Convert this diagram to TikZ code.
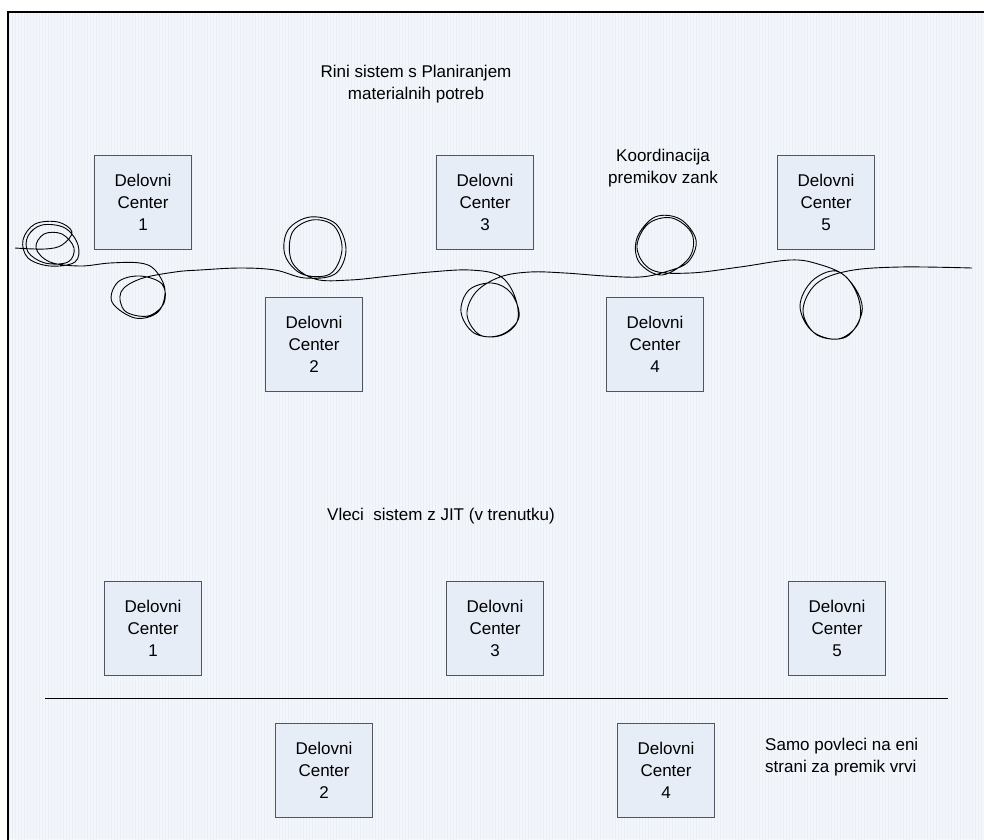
\documentclass[tikz,border=0pt]{standalone}
\usepackage{fontspec}
\setmainfont{Liberation Sans}
\begin{document}
\begin{tikzpicture}[x=1pt,y=-1pt,
  every node/.style={font=\fontsize{17}{22}\selectfont},
  center/.style={draw=boxline, fill=boxfill, line width=1.1pt, align=center,
    minimum width=97pt, minimum height=94pt, anchor=north west, inner sep=0pt},
  caption/.style={align=center, inner sep=0pt},
  rope/.style={line width=0.9pt, line join=round}]
\definecolor{boxfill}{HTML}{E6EDF7}
\definecolor{boxline}{HTML}{50555F}
\definecolor{paper}{HTML}{F3F6FB}
\definecolor{gridc}{HTML}{EAEEF6}
\useasboundingbox (0,0) rectangle (984,839);
% sheet with fine grid
\begin{scope}
\clip (0,0) rectangle (984,839);
\fill[paper] (8,12) rectangle (990,845);
\draw[gridc, line width=0.3pt, step=3] (9,13) grid (984,839);
\draw[line width=1.4pt] (8,845) -- (8,12) -- (990,12);
\end{scope}

% push system (MRP)
\node[caption] (t1) at (416,84) {Rini sistem s Planiranjem\\materialnih potreb};
\node[caption] (k) at (663,168) {Koordinacija\\premikov zank};

\node[center] (a1) at (94,155) {Delovni\\Center\\1};
\node[center] (a2) at (265,297) {Delovni\\Center\\2};
\node[center] (a3) at (436,155) {Delovni\\Center\\3};
\node[center] (a4) at (606,297) {Delovni\\Center\\4};
\node[center] (a5) at (777,155) {Delovni\\Center\\5};

% tangled rope with loops
\draw[rope] plot[smooth, tension=0.6] coordinates {
 (15,248) (45,249) (62,245)
 (72,232) (58,222) (35,224) (23,240) (28,258) (50,266) (75,262) (78,245)
 (65,228) (42,225) (28,236) (28,252) (45,263) (68,262) (74,248) (62,234)
 (44,234) (36,248) (50,262) (80,266)
 (110,263) (140,263) (155,270)
 (165,290) (158,312) (135,318) (112,302) (118,282) (140,276) (162,284)
 (164,303) (148,316) (125,311) (121,292) (140,279) (175,272)
 (200,270) (240,268) (275,270)
 (305,278) (335,274) (346,250) (336,224) (310,217) (288,230) (285,255)
 (302,274) (330,274) (342,250) (334,226) (312,220) (292,233) (292,262)
 (315,279) (350,280) (390,276) (430,272) (470,270)
 (500,276) (515,297) (517,322) (499,336) (474,333) (461,312) (469,290)
 (492,283) (511,293) (519,317) (503,334) (480,335) (467,315) (476,292)
 (500,277) (530,272) (565,273)
 (605,276) (640,277) (665,272) (688,262) (696,240) (680,219) (655,217)
 (637,238) (639,262) (662,275) (689,258) (692,234) (672,218) (648,224)
 (637,248) (652,270) (690,273) (740,267) (790,260)
 (818,264) (845,276) (859,300) (858,324) (838,339) (812,331) (800,306)
 (812,281) (836,271) (855,288) (862,312) (846,337) (817,335) (803,311)
 (816,284) (848,271) (900,267) (972,268)
};

% pull system (JIT)
\node[caption] (t2) at (441,516) {Vleci\ \ sistem z JIT (v trenutku)};

\node[center] (b1) at (104,581) {Delovni\\Center\\1};
\node[center] (b3) at (446,581) {Delovni\\Center\\3};
\node[center] (b5) at (788,581) {Delovni\\Center\\5};
\node[center] (b2) at (275,723) {Delovni\\Center\\2};
\node[center] (b4) at (617,723) {Delovni\\Center\\4};

\coordinate (ls) at (45,698);
\coordinate (le) at (948,698);
\draw[line width=0.9pt] (ls) -- (le);

\node[align=left, anchor=west, inner sep=0pt] (note) at (765,757)
  {Samo povleci na eni\\strani za premik vrvi};
\end{tikzpicture}
\end{document}
